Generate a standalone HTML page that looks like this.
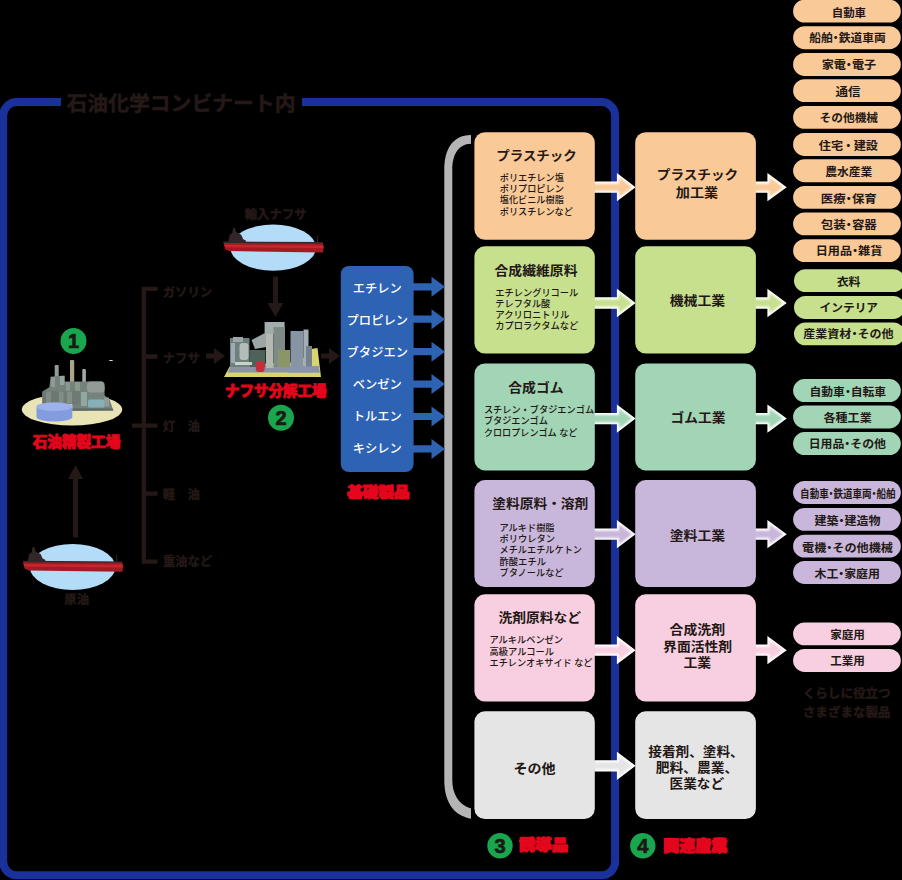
<!DOCTYPE html>
<html lang="ja">
<head>
<meta charset="utf-8">
<title>石油化学コンビナート</title>
<style>
html,body{margin:0;padding:0;background:#000;}
body{width:902px;height:880px;overflow:hidden;}
svg{display:block;font-family:"Liberation Sans","Noto Sans CJK JP",sans-serif;}
text{white-space:pre;}
</style>
</head>
<body>
<svg width="902" height="880" viewBox="0 0 902 880">
<defs><filter id="bl" x="-20%" y="-20%" width="140%" height="140%"><feGaussianBlur stdDeviation="0.9"/></filter></defs>
<rect width="902" height="880" fill="#000"/>
<path d="M302,102.1 H601.6 A13.5,13.5 0 0 1 615.1,115.6 V861.8 A13.5,13.5 0 0 1 601.6,875.3 H16.7 A13.5,13.5 0 0 1 3.2,861.8 V115.6 A13.5,13.5 0 0 1 16.7,102.1 H61" fill="none" stroke="#1a319c" stroke-width="8"/>
<text x="181.0" y="111.4" font-size="20.5" font-weight="700" fill="#241917" text-anchor="middle" textLength="229.0" lengthAdjust="spacingAndGlyphs" stroke="#241917" stroke-width="0.5">石油化学コンビナート内</text>
<path d="M471,135 C452,135.2 444.3,150 444.3,170 V780 C444.3,800 452,815 471,818.8 V808.4 C458,805 452.3,793 452.3,780 V170 C452.3,155 458,144 471,143.7 Z" fill="#b5b5b6"/>
<path d="M157.5,288.9 H143.9 V561.6 H157.5 M143.9,356.5 H157.5 M132,425.6 H157.5 M143.9,493.6 H157.5" fill="none" stroke="#241917" stroke-width="4.4"/>
<text x="162.7" y="296.8" font-size="12.4" font-weight="700" fill="#241917" text-anchor="start" stroke="#241917" stroke-width="0.3">ガソリン</text>
<text x="162.7" y="363.3" font-size="12.4" font-weight="700" fill="#241917" text-anchor="start" stroke="#241917" stroke-width="0.3">ナフサ</text>
<text x="162.7" y="430.9" font-size="12.4" font-weight="700" fill="#241917" text-anchor="start" stroke="#241917" stroke-width="0.3">灯　油</text>
<text x="162.7" y="499.1" font-size="12.4" font-weight="700" fill="#241917" text-anchor="start" stroke="#241917" stroke-width="0.3">軽　油</text>
<text x="162.7" y="565.8" font-size="12.4" font-weight="700" fill="#241917" text-anchor="start" stroke="#241917" stroke-width="0.3">重油など</text>
<path d="M206,353.5 H214 V348 L225,356 L214,364 V358.5 H206 Z" fill="#241917"/>
<path d="M321,353.5 H329 V348 L340,356 L329,364 V358.5 H321 Z" fill="#241917"/>
<path d="M273.1,276.5 H278 V303 H283.4 L275.5,316.8 L267.6,303 H273.1 Z" fill="#241917"/>
<path d="M73,537.5 H78 V479 H83 L75.5,465 L68,479 H73 Z" fill="#241917"/>
<ellipse cx="273.2" cy="247.7" rx="42.8" ry="23.1" fill="#b2dcf7"/>
<path d="M223.39999999999998,242.1 L322.7,242.7 L323.8,246.7 L323.0,252.5 L229.2,251.1 L225.2,249.2 Z" fill="#a31a22"/>
<path d="M224.2,244.7 L323.2,245.5 L323.4,248.29999999999998 L225.2,247.29999999999998 Z" fill="#c8262f"/>
<path d="M223.39999999999998,241.5 L322.7,242.1 L322.7,243.5 L223.7,242.89999999999998 Z" fill="#35252a"/>
<path d="M228.2,242.7 L229.7,234.7 L232.2,233.2 L233.2,227.7 L234.7,227.7 L236.2,232.2 L241.2,234.7 L243.2,239.2 L246.2,240.7 L245.2,242.7 Z" fill="#33262a"/>
<rect x="316.8" y="235.7" width="1" height="7" fill="#33262a"/>
<ellipse cx="72.6" cy="567" rx="42.8" ry="23.1" fill="#b2dcf7"/>
<path d="M22.799999999999997,561.4 L122.1,562 L123.19999999999999,566 L122.39999999999999,571.8 L28.599999999999994,570.4 L24.599999999999994,568.5 Z" fill="#a31a22"/>
<path d="M23.599999999999994,564 L122.6,564.8 L122.8,567.6 L24.599999999999994,566.6 Z" fill="#c8262f"/>
<path d="M22.799999999999997,560.8 L122.1,561.4 L122.1,562.8 L23.099999999999994,562.2 Z" fill="#35252a"/>
<path d="M27.599999999999994,562 L29.099999999999994,554 L31.599999999999994,552.5 L32.599999999999994,547 L34.099999999999994,547 L35.599999999999994,551.5 L40.599999999999994,554 L42.599999999999994,558.5 L45.599999999999994,560 L44.599999999999994,562 Z" fill="#33262a"/>
<rect x="116.19999999999999" y="555" width="1" height="7" fill="#33262a"/>
<text x="275.7" y="218.8" font-size="12.4" font-weight="700" fill="#241917" text-anchor="middle" textLength="62.0" lengthAdjust="spacingAndGlyphs" stroke="#241917" stroke-width="0.4">輸入ナフサ</text>
<text x="76.7" y="604.3" font-size="12.4" font-weight="700" fill="#241917" text-anchor="middle" stroke="#241917" stroke-width="0.4">原油</text>
<ellipse cx="72" cy="409.6" rx="50.2" ry="15.9" fill="#e8e4b6"/>
<g>
<rect x="54.7" y="365" width="4" height="18" rx="1" fill="#8f9d98"/>
<rect x="70" y="360" width="4.2" height="23" rx="1" fill="#aaa58a"/>
<rect x="82.3" y="369" width="3.6" height="18" rx="1" fill="#a0aaa6"/>
<path d="M42.3,391.4 L49.4,387.3 L50.5,376.7 L64.6,375.5 L64.6,381.4 L102.3,381.4 L104.6,387.3 L104.6,395.5 L109.3,399 L113.4,410.4 L72.3,410.8 L72.3,404 L42.3,404 Z" fill="#74827b"/>
<rect x="51" y="377" width="4" height="10" fill="#8d9b95"/>
<rect x="60" y="376" width="4.5" height="9" fill="#93a39f"/>
<rect x="66" y="382" width="4" height="9" fill="#8a9892"/>
<rect x="75" y="382" width="5" height="9" fill="#8c9a8e"/>
<rect x="87" y="381.5" width="17.6" height="11" rx="3.5" fill="#929b96"/>
<rect x="42.3" y="390.8" width="16.6" height="13.4" rx="2.5" fill="#6c7871"/>
<rect x="46" y="391.5" width="5" height="12" fill="#7f8b84"/>
<rect x="63.5" y="390.8" width="16.6" height="13.4" rx="2.5" fill="#6e7a74"/>
<rect x="67" y="391.5" width="5" height="12" fill="#828e87"/>
<rect x="59" y="392" width="4.5" height="12" fill="#7d9088"/>
<rect x="81" y="392" width="6" height="14" fill="#8fa8a0"/>
<rect x="88" y="399.5" width="16.5" height="8" rx="1.5" fill="#85b0b8"/>
<rect x="104" y="397.5" width="5" height="9" fill="#8f9c98"/>
<path d="M72.3,408.6 L112.6,408.4 L113.4,410.4 L72.3,410.8 Z" fill="#5d6965"/>
<path d="M36.5,406.8 a17.9,4.2 0 0 1 35.8,0 v10.2 a17.9,4.6 0 0 1 -35.8,0 Z" fill="#839ce0"/>
<ellipse cx="54.4" cy="406.8" rx="17.9" ry="4.2" fill="#9db2ea"/>
<rect x="109.3" y="360" width="3.4" height="1" fill="#d8d8d0"/>
</g>
<circle cx="73.5" cy="341" r="13" fill="#1aa64e"/>
<text x="73.5" y="347.8" font-size="20" font-weight="700" fill="#1c1a14" text-anchor="middle" stroke="#1c1a14" stroke-width="0.7">1</text>
<text x="76.5" y="447.2" font-size="14.4" font-weight="700" fill="#e3061c" text-anchor="middle" textLength="87.5" lengthAdjust="spacingAndGlyphs" stroke="#e3061c" stroke-width="1.1" stroke-linejoin="round">石油精製工場</text>
<path d="M224,377 L230.5,365 L300,362 L311,349 L317.5,348 L321,377 Z" fill="#d9d472"/>
<path d="M228,372.6 L230.5,366 L318.5,366 L320,372.6 Z" fill="#8a94a4"/>
<rect x="230" y="338" width="19.5" height="29" fill="#6f7f7a"/>
<rect x="233" y="337" width="10" height="5" fill="#9aa8ac"/>
<rect x="239.5" y="343" width="9" height="17" rx="3" fill="#b3bcb8"/>
<rect x="231" y="343" width="4" height="20" fill="#9fa9b8"/>
<rect x="249.5" y="350" width="16" height="17" fill="#4f625a"/>
<path d="M251.5,340 L264,333.5 L272,333.5 L272,346 L255,349 Z" fill="#9ca6a4"/>
<rect x="264.6" y="322" width="20" height="12" fill="#a3adae"/>
<rect x="266" y="334" width="7.5" height="34" fill="#b4b9b2"/>
<rect x="273.5" y="327" width="11.5" height="40" fill="#7f8a86"/>
<rect x="278" y="350" width="12" height="17" fill="#8a9568"/>
<rect x="290.5" y="331" width="13" height="36" fill="#8694a4"/>
<rect x="303.5" y="329.5" width="5" height="37" fill="#a3afb6"/>
<rect x="306" y="346" width="6" height="21" fill="#75828c"/>
<rect x="288" y="366.5" width="31" height="6" fill="#8893b4"/>
<rect x="235" y="362" width="17" height="3" fill="#c8d2c8"/>
<rect x="255.8" y="361" width="8.8" height="11" rx="3" fill="#c22f3a"/>
<circle cx="281" cy="417.7" r="13" fill="#1aa64e"/>
<text x="281.0" y="424.5" font-size="20" font-weight="700" fill="#1c1a14" text-anchor="middle" stroke="#1c1a14" stroke-width="0.7">2</text>
<text x="275.7" y="395.7" font-size="14.4" font-weight="700" fill="#e3061c" text-anchor="middle" textLength="101.5" lengthAdjust="spacingAndGlyphs" stroke="#e3061c" stroke-width="1.1" stroke-linejoin="round">ナフサ分解工場</text>
<rect x="340.8" y="266" width="72.8" height="206" rx="8" fill="#2e62b3"/>
<text x="377.3" y="292.5" font-size="12.3" font-weight="500" fill="#ffffff" text-anchor="middle">エチレン</text>
<path d="M412,283.2 H431.5 V276.8 L445,286.8 L431.5,296.8 V290.40000000000003 H412 Z" fill="#2e62b3"/>
<text x="377.3" y="324.6" font-size="12.3" font-weight="500" fill="#ffffff" text-anchor="middle">プロピレン</text>
<path d="M412,315.62 H431.5 V309.22 L445,319.22 L431.5,329.22 V322.82000000000005 H412 Z" fill="#2e62b3"/>
<text x="377.3" y="356.6" font-size="12.3" font-weight="500" fill="#ffffff" text-anchor="middle">ブタジエン</text>
<path d="M412,348.03999999999996 H431.5 V341.64 L445,351.64 L431.5,361.64 V355.24 H412 Z" fill="#2e62b3"/>
<text x="377.3" y="388.7" font-size="12.3" font-weight="500" fill="#ffffff" text-anchor="middle">ベンゼン</text>
<path d="M412,380.46 H431.5 V374.06 L445,384.06 L431.5,394.06 V387.66 H412 Z" fill="#2e62b3"/>
<text x="377.3" y="420.7" font-size="12.3" font-weight="500" fill="#ffffff" text-anchor="middle">トルエン</text>
<path d="M412,412.88 H431.5 V406.48 L445,416.48 L431.5,426.48 V420.08000000000004 H412 Z" fill="#2e62b3"/>
<text x="377.3" y="452.8" font-size="12.3" font-weight="500" fill="#ffffff" text-anchor="middle">キシレン</text>
<path d="M412,445.3 H431.5 V438.90000000000003 L445,448.90000000000003 L431.5,458.90000000000003 V452.50000000000006 H412 Z" fill="#2e62b3"/>
<text x="378.5" y="497.0" font-size="14" font-weight="900" fill="#e3061c" text-anchor="middle" textLength="62.5" lengthAdjust="spacingAndGlyphs" stroke="#e3061c" stroke-width="1.2" stroke-linejoin="round">基礎製品</text>
<rect x="474.4" y="132.2" width="120.4" height="107.6" rx="10.5" fill="#f9c998"/>
<rect x="635.2" y="132.2" width="120.7" height="107.6" rx="10.5" fill="#f9c998"/>
<rect x="474.4" y="246.3" width="120.4" height="107.3" rx="10.5" fill="#c6e08e"/>
<rect x="635.2" y="246.3" width="120.7" height="107.3" rx="10.5" fill="#c6e08e"/>
<rect x="474.4" y="363.4" width="120.4" height="107.0" rx="10.5" fill="#a2d4b6"/>
<rect x="635.2" y="363.4" width="120.7" height="107.0" rx="10.5" fill="#a2d4b6"/>
<rect x="474.4" y="480.1" width="120.4" height="107.0" rx="10.5" fill="#c9b7db"/>
<rect x="635.2" y="480.1" width="120.7" height="107.0" rx="10.5" fill="#c9b7db"/>
<rect x="474.4" y="594.3" width="120.4" height="107.2" rx="10.5" fill="#f8cfe0"/>
<rect x="635.2" y="594.3" width="120.7" height="107.2" rx="10.5" fill="#f8cfe0"/>
<rect x="474.4" y="711.3" width="120.4" height="107.8" rx="10.5" fill="#e5e5e5"/>
<rect x="635.2" y="711.3" width="120.7" height="107.8" rx="10.5" fill="#e5e5e5"/>
<path d="M594.5,181.54999999999998 H616.9 V173.04999999999998 L635.6,187.2 L616.9,201.35 V192.85 H594.5 Z" fill="#ffffff"/>
<path d="M591.5,183.65 H619.00 V177.27 L632.12,187.2 L619.00,197.13 V190.75 H591.5 Z" fill="#f9c998" filter="url(#bl)"/>
<path d="M755.6,181.54999999999998 H767.4 V173.04999999999998 L786.7,187.2 L767.4,201.35 V192.85 H755.6 Z" fill="#ffffff"/>
<path d="M752.6,183.65 H769.50 V177.19 L783.15,187.2 L769.50,197.21 V190.75 H752.6 Z" fill="#f9c998" filter="url(#bl)"/>
<path d="M594.5,297.35 H616.9 V288.85 L635.6,303 L616.9,317.15 V308.65 H594.5 Z" fill="#ffffff"/>
<path d="M591.5,299.45 H619.00 V293.07 L632.12,303 L619.00,312.93 V306.55 H591.5 Z" fill="#c6e08e" filter="url(#bl)"/>
<path d="M755.6,297.35 H767.4 V288.85 L786.7,303 L767.4,317.15 V308.65 H755.6 Z" fill="#ffffff"/>
<path d="M752.6,299.45 H769.50 V292.99 L783.15,303 L769.50,313.01 V306.55 H752.6 Z" fill="#c6e08e" filter="url(#bl)"/>
<path d="M594.5,412.95000000000005 H616.9 V404.45000000000005 L635.6,418.6 L616.9,432.75 V424.25 H594.5 Z" fill="#ffffff"/>
<path d="M591.5,415.05 H619.00 V408.67 L632.12,418.6 L619.00,428.53 V422.15 H591.5 Z" fill="#a2d4b6" filter="url(#bl)"/>
<path d="M755.6,412.95000000000005 H767.4 V404.45000000000005 L786.7,418.6 L767.4,432.75 V424.25 H755.6 Z" fill="#ffffff"/>
<path d="M752.6,415.05 H769.50 V408.59 L783.15,418.6 L769.50,428.61 V422.15 H752.6 Z" fill="#a2d4b6" filter="url(#bl)"/>
<path d="M594.5,528.5500000000001 H616.9 V520.0500000000001 L635.6,534.2 L616.9,548.35 V539.85 H594.5 Z" fill="#ffffff"/>
<path d="M591.5,530.65 H619.00 V524.27 L632.12,534.2 L619.00,544.13 V537.75 H591.5 Z" fill="#c9b7db" filter="url(#bl)"/>
<path d="M755.6,528.5500000000001 H767.4 V520.0500000000001 L786.7,534.2 L767.4,548.35 V539.85 H755.6 Z" fill="#ffffff"/>
<path d="M752.6,530.65 H769.50 V524.19 L783.15,534.2 L769.50,544.21 V537.75 H752.6 Z" fill="#c9b7db" filter="url(#bl)"/>
<path d="M594.5,644.5500000000001 H616.9 V636.0500000000001 L635.6,650.2 L616.9,664.35 V655.85 H594.5 Z" fill="#ffffff"/>
<path d="M591.5,646.65 H619.00 V640.27 L632.12,650.2 L619.00,660.13 V653.75 H591.5 Z" fill="#f8cfe0" filter="url(#bl)"/>
<path d="M755.6,644.5500000000001 H767.4 V636.0500000000001 L786.7,650.2 L767.4,664.35 V655.85 H755.6 Z" fill="#ffffff"/>
<path d="M752.6,646.65 H769.50 V640.19 L783.15,650.2 L769.50,660.21 V653.75 H752.6 Z" fill="#f8cfe0" filter="url(#bl)"/>
<path d="M594.5,760.15 H616.9 V751.65 L635.6,765.8 L616.9,779.9499999999999 V771.4499999999999 H594.5 Z" fill="#ffffff"/>
<path d="M591.5,762.25 H619.00 V755.87 L632.12,765.8 L619.00,775.73 V769.35 H591.5 Z" fill="#e5e5e5" filter="url(#bl)"/>
<text x="536.5" y="159.8" font-size="13" font-weight="700" fill="#231815" text-anchor="middle" textLength="80.5" lengthAdjust="spacingAndGlyphs">プラスチック</text>
<text x="536.0" y="274.6" font-size="13" font-weight="700" fill="#231815" text-anchor="middle" textLength="83.0" lengthAdjust="spacingAndGlyphs">合成繊維原料</text>
<text x="536.0" y="391.5" font-size="13" font-weight="700" fill="#231815" text-anchor="middle" textLength="55.5" lengthAdjust="spacingAndGlyphs">合成ゴム</text>
<text x="540.3" y="507.5" font-size="13" font-weight="700" fill="#231815" text-anchor="middle" textLength="96.0" lengthAdjust="spacingAndGlyphs">塗料原料・溶剤</text>
<text x="539.7" y="622.2" font-size="13" font-weight="700" fill="#231815" text-anchor="middle" textLength="82.5" lengthAdjust="spacingAndGlyphs">洗剤原料など</text>
<text x="534.6" y="773.3" font-size="13" font-weight="700" fill="#231815" text-anchor="middle" textLength="42.1" lengthAdjust="spacingAndGlyphs">その他</text>
<text x="499.8" y="181.4" font-size="9.5" font-weight="500" fill="#231815" text-anchor="start" textLength="64.0" lengthAdjust="spacingAndGlyphs">ポリエチレン塩</text>
<text x="499.8" y="192.1" font-size="9.5" font-weight="500" fill="#231815" text-anchor="start" textLength="64.0" lengthAdjust="spacingAndGlyphs">ポリプロピレン</text>
<text x="499.8" y="203.3" font-size="9.5" font-weight="500" fill="#231815" text-anchor="start" textLength="64.0" lengthAdjust="spacingAndGlyphs">塩化ビニル樹脂</text>
<text x="499.8" y="214.6" font-size="9.5" font-weight="500" fill="#231815" text-anchor="start" textLength="73.0" lengthAdjust="spacingAndGlyphs">ポリスチレンなど</text>
<text x="495.3" y="295.5" font-size="9.5" font-weight="500" fill="#231815" text-anchor="start" textLength="83.0" lengthAdjust="spacingAndGlyphs">エチレングリコール</text>
<text x="495.3" y="306.6" font-size="9.5" font-weight="500" fill="#231815" text-anchor="start" textLength="55.0" lengthAdjust="spacingAndGlyphs">テレフタル酸</text>
<text x="495.3" y="318.0" font-size="9.5" font-weight="500" fill="#231815" text-anchor="start" textLength="74.0" lengthAdjust="spacingAndGlyphs">アクリロニトリル</text>
<text x="495.3" y="329.2" font-size="9.5" font-weight="500" fill="#231815" text-anchor="start" textLength="83.0" lengthAdjust="spacingAndGlyphs">カプロラクタムなど</text>
<text x="483.9" y="413.2" font-size="9.5" font-weight="500" fill="#231815" text-anchor="start" textLength="110.2" lengthAdjust="spacingAndGlyphs">スチレン・ブタジエンゴム</text>
<text x="483.9" y="424.3" font-size="9.5" font-weight="500" fill="#231815" text-anchor="start" textLength="64.0" lengthAdjust="spacingAndGlyphs">ブタジエンゴム</text>
<text x="483.9" y="436.1" font-size="9.5" font-weight="500" fill="#231815" text-anchor="start" textLength="93.5" lengthAdjust="spacingAndGlyphs">クロロプレンゴム など</text>
<text x="499.5" y="531.4" font-size="9.5" font-weight="500" fill="#231815" text-anchor="start" textLength="55.0" lengthAdjust="spacingAndGlyphs">アルキド樹脂</text>
<text x="499.5" y="541.9" font-size="9.5" font-weight="500" fill="#231815" text-anchor="start" textLength="55.5" lengthAdjust="spacingAndGlyphs">ポリウレタン</text>
<text x="499.5" y="553.0" font-size="9.5" font-weight="500" fill="#231815" text-anchor="start" textLength="82.5" lengthAdjust="spacingAndGlyphs">メチルエチルケトン</text>
<text x="499.5" y="564.6" font-size="9.5" font-weight="500" fill="#231815" text-anchor="start" textLength="46.5" lengthAdjust="spacingAndGlyphs">酢酸エチル</text>
<text x="499.5" y="575.8" font-size="9.5" font-weight="500" fill="#231815" text-anchor="start" textLength="64.0" lengthAdjust="spacingAndGlyphs">ブタノールなど</text>
<text x="489.5" y="643.2" font-size="9.5" font-weight="500" fill="#231815" text-anchor="start" textLength="73.5" lengthAdjust="spacingAndGlyphs">アルキルベンゼン</text>
<text x="489.5" y="654.9" font-size="9.5" font-weight="500" fill="#231815" text-anchor="start" textLength="64.5" lengthAdjust="spacingAndGlyphs">高級アルコール</text>
<text x="489.5" y="666.3" font-size="9.5" font-weight="500" fill="#231815" text-anchor="start" textLength="103.0" lengthAdjust="spacingAndGlyphs">エチレンオキサイド など</text>
<text x="697.5" y="178.9" font-size="13" font-weight="700" fill="#231815" text-anchor="middle" textLength="81.5" lengthAdjust="spacingAndGlyphs">プラスチック</text>
<text x="697.0" y="196.6" font-size="13" font-weight="700" fill="#231815" text-anchor="middle" textLength="42.5" lengthAdjust="spacingAndGlyphs">加工業</text>
<text x="697.5" y="304.6" font-size="13" font-weight="700" fill="#231815" text-anchor="middle" textLength="55.5" lengthAdjust="spacingAndGlyphs">機械工業</text>
<text x="698.0" y="421.6" font-size="13" font-weight="700" fill="#231815" text-anchor="middle" textLength="55.0" lengthAdjust="spacingAndGlyphs">ゴム工業</text>
<text x="697.5" y="539.6" font-size="13" font-weight="700" fill="#231815" text-anchor="middle" textLength="55.5" lengthAdjust="spacingAndGlyphs">塗料工業</text>
<text x="697.3" y="633.5" font-size="13" font-weight="700" fill="#231815" text-anchor="middle" textLength="55.5" lengthAdjust="spacingAndGlyphs">合成洗剤</text>
<text x="697.6" y="650.6" font-size="13" font-weight="700" fill="#231815" text-anchor="middle" textLength="69.0" lengthAdjust="spacingAndGlyphs">界面活性剤</text>
<text x="697.3" y="667.2" font-size="13" font-weight="700" fill="#231815" text-anchor="middle" textLength="27.8" lengthAdjust="spacingAndGlyphs">工業</text>
<text x="696.0" y="755.5" font-size="13" font-weight="700" fill="#231815" text-anchor="middle" textLength="95.5" lengthAdjust="spacingAndGlyphs">接着剤、塗料、</text>
<text x="697.0" y="771.9" font-size="13" font-weight="700" fill="#231815" text-anchor="middle" textLength="82.5" lengthAdjust="spacingAndGlyphs">肥料、農業、</text>
<text x="696.8" y="787.6" font-size="13" font-weight="700" fill="#231815" text-anchor="middle" textLength="54.5" lengthAdjust="spacingAndGlyphs">医業など</text>
<rect x="793.1" y="-0.3" width="107.7" height="22.9" rx="11.45" fill="#f9c998"/>
<text x="848.9" y="16.8" font-size="11.5" font-weight="700" fill="#231815" text-anchor="middle" textLength="34.4" lengthAdjust="spacingAndGlyphs">自動車</text>
<rect x="793.1" y="26.25" width="107.7" height="22.9" rx="11.45" fill="#f9c998"/>
<text x="847.5" y="42.3" font-size="11.5" font-weight="700" fill="#231815" text-anchor="middle" textLength="76.5" lengthAdjust="spacingAndGlyphs">船舶<tspan dx="-2.88">・</tspan><tspan dx="-2.88">鉄</tspan>道車両</text>
<rect x="793.1" y="53.0" width="107.7" height="22.9" rx="11.45" fill="#f9c998"/>
<text x="848.9" y="69.1" font-size="11.5" font-weight="700" fill="#231815" text-anchor="middle" textLength="54.4" lengthAdjust="spacingAndGlyphs">家電<tspan dx="-2.88">・</tspan><tspan dx="-2.88">電</tspan>子</text>
<rect x="793.1" y="79.2" width="107.7" height="22.9" rx="11.45" fill="#f9c998"/>
<text x="848.0" y="95.6" font-size="11.5" font-weight="700" fill="#231815" text-anchor="middle" textLength="25.0" lengthAdjust="spacingAndGlyphs">通信</text>
<rect x="793.1" y="105.9" width="107.7" height="22.9" rx="11.45" fill="#f9c998"/>
<text x="848.8" y="121.7" font-size="11.5" font-weight="700" fill="#231815" text-anchor="middle" textLength="58.5" lengthAdjust="spacingAndGlyphs">その他機械</text>
<rect x="793.1" y="133" width="107.7" height="22.9" rx="11.45" fill="#f9c998"/>
<text x="848.4" y="149.5" font-size="11.5" font-weight="700" fill="#231815" text-anchor="middle" textLength="59.1" lengthAdjust="spacingAndGlyphs">住宅<tspan dx="-0.69">・</tspan><tspan dx="-0.69">建</tspan>設</text>
<rect x="793.1" y="159.3" width="107.7" height="22.9" rx="11.45" fill="#f9c998"/>
<text x="848.8" y="175.8" font-size="11.5" font-weight="700" fill="#231815" text-anchor="middle" textLength="47.2" lengthAdjust="spacingAndGlyphs">農水産業</text>
<rect x="793.1" y="185.9" width="107.7" height="22.9" rx="11.45" fill="#f9c998"/>
<text x="848.8" y="202.9" font-size="11.5" font-weight="700" fill="#231815" text-anchor="middle" textLength="56.0" lengthAdjust="spacingAndGlyphs">医療<tspan dx="-2.88">・</tspan><tspan dx="-2.88">保</tspan>育</text>
<rect x="793.1" y="212.4" width="107.7" height="22.9" rx="11.45" fill="#f9c998"/>
<text x="848.8" y="228.9" font-size="11.5" font-weight="700" fill="#231815" text-anchor="middle" textLength="56.0" lengthAdjust="spacingAndGlyphs">包装<tspan dx="-2.88">・</tspan><tspan dx="-2.88">容</tspan>器</text>
<rect x="793.1" y="239.2" width="107.7" height="22.9" rx="11.45" fill="#f9c998"/>
<text x="849.0" y="255.1" font-size="11.5" font-weight="700" fill="#231815" text-anchor="middle" textLength="66.6" lengthAdjust="spacingAndGlyphs">日用品<tspan dx="-2.88">・</tspan><tspan dx="-2.88">雑</tspan>貨</text>
<rect x="794.0" y="269.2" width="110.8" height="22.9" rx="11.45" fill="#c6e08e"/>
<text x="848.6" y="285.8" font-size="11.5" font-weight="700" fill="#231815" text-anchor="middle" textLength="23.8" lengthAdjust="spacingAndGlyphs">衣料</text>
<rect x="794.0" y="296.0" width="110.8" height="22.9" rx="11.45" fill="#c6e08e"/>
<text x="848.8" y="311.9" font-size="11.5" font-weight="700" fill="#231815" text-anchor="middle" textLength="58.5" lengthAdjust="spacingAndGlyphs">インテリア</text>
<rect x="794.0" y="322.4" width="110.8" height="22.9" rx="11.45" fill="#c6e08e"/>
<text x="848.4" y="337.9" font-size="11.5" font-weight="700" fill="#231815" text-anchor="middle" textLength="90.4" lengthAdjust="spacingAndGlyphs">産業資材<tspan dx="-2.88">・</tspan><tspan dx="-2.88">そ</tspan>の他</text>
<rect x="793.1" y="379.1" width="107.7" height="22.9" rx="11.45" fill="#a2d4b6"/>
<text x="847.8" y="395.8" font-size="11.5" font-weight="700" fill="#231815" text-anchor="middle" textLength="76.6" lengthAdjust="spacingAndGlyphs">自動車<tspan dx="-2.88">・</tspan><tspan dx="-2.88">自</tspan>転車</text>
<rect x="793.1" y="405.5" width="107.7" height="22.9" rx="11.45" fill="#a2d4b6"/>
<text x="847.6" y="421.7" font-size="11.5" font-weight="700" fill="#231815" text-anchor="middle" textLength="48.2" lengthAdjust="spacingAndGlyphs">各種工業</text>
<rect x="793.1" y="432.1" width="107.7" height="22.9" rx="11.45" fill="#a2d4b6"/>
<text x="847.3" y="448.4" font-size="11.5" font-weight="700" fill="#231815" text-anchor="middle" textLength="77.3" lengthAdjust="spacingAndGlyphs">日用品<tspan dx="-2.88">・</tspan><tspan dx="-2.88">そ</tspan>の他</text>
<rect x="793.1" y="481" width="107.7" height="22.9" rx="11.45" fill="#c9b7db"/>
<text x="847.8" y="498.4" font-size="11.5" font-weight="700" fill="#231815" text-anchor="middle" textLength="95.4" lengthAdjust="spacingAndGlyphs">自動車<tspan dx="-2.88">・</tspan><tspan dx="-2.88">鉄</tspan>道車両<tspan dx="-2.88">・</tspan><tspan dx="-2.88">船</tspan>舶</text>
<rect x="793.1" y="507.9" width="107.7" height="22.9" rx="11.45" fill="#c9b7db"/>
<text x="847.5" y="525.0" font-size="11.5" font-weight="700" fill="#231815" text-anchor="middle" textLength="66.0" lengthAdjust="spacingAndGlyphs">建築<tspan dx="-2.88">・</tspan><tspan dx="-2.88">建</tspan>造物</text>
<rect x="793.1" y="534.7" width="107.7" height="22.9" rx="11.45" fill="#c9b7db"/>
<text x="847.5" y="551.9" font-size="11.5" font-weight="700" fill="#231815" text-anchor="middle" textLength="91.0" lengthAdjust="spacingAndGlyphs">電機<tspan dx="-2.88">・</tspan><tspan dx="-2.88">そ</tspan>の他機械</text>
<rect x="793.1" y="561" width="107.7" height="22.9" rx="11.45" fill="#c9b7db"/>
<text x="847.2" y="578.1" font-size="11.5" font-weight="700" fill="#231815" text-anchor="middle" textLength="65.4" lengthAdjust="spacingAndGlyphs">木工<tspan dx="-2.88">・</tspan><tspan dx="-2.88">家</tspan>庭用</text>
<rect x="793.1" y="622.4" width="107.7" height="22.9" rx="11.45" fill="#f8cfe0"/>
<text x="847.5" y="638.8" font-size="11.5" font-weight="700" fill="#231815" text-anchor="middle" textLength="34.7" lengthAdjust="spacingAndGlyphs">家庭用</text>
<rect x="793.1" y="649" width="107.7" height="22.9" rx="11.45" fill="#f8cfe0"/>
<text x="847.5" y="665.2" font-size="11.5" font-weight="700" fill="#231815" text-anchor="middle" textLength="34.7" lengthAdjust="spacingAndGlyphs">工業用</text>
<text x="846.7" y="697.7" font-size="12.4" font-weight="700" fill="#241917" text-anchor="middle" textLength="88.0" lengthAdjust="spacingAndGlyphs" stroke="#241917" stroke-width="0.4">くらしに役立つ</text>
<text x="846.7" y="716.8" font-size="12.4" font-weight="700" fill="#241917" text-anchor="middle" textLength="88.0" lengthAdjust="spacingAndGlyphs" stroke="#241917" stroke-width="0.4">さまざまな製品</text>
<circle cx="500" cy="845.8" r="12.7" fill="#1aa64e"/>
<text x="500.0" y="852.6" font-size="20" font-weight="700" fill="#1c1a14" text-anchor="middle" stroke="#1c1a14" stroke-width="0.7">3</text>
<text x="543.5" y="850.1" font-size="14.6" font-weight="900" fill="#e3061c" text-anchor="middle" textLength="49.0" lengthAdjust="spacingAndGlyphs" stroke="#e3061c" stroke-width="1.3" stroke-linejoin="round">誘導品</text>
<circle cx="642.8" cy="845.8" r="12.7" fill="#1aa64e"/>
<text x="642.8" y="852.6" font-size="20" font-weight="700" fill="#1c1a14" text-anchor="middle" stroke="#1c1a14" stroke-width="0.7">4</text>
<text x="695.3" y="851.1" font-size="14.6" font-weight="900" fill="#e3061c" text-anchor="middle" textLength="64.0" lengthAdjust="spacingAndGlyphs" stroke="#e3061c" stroke-width="1.3" stroke-linejoin="round">関連産業</text>
</svg>
</body>
</html>
